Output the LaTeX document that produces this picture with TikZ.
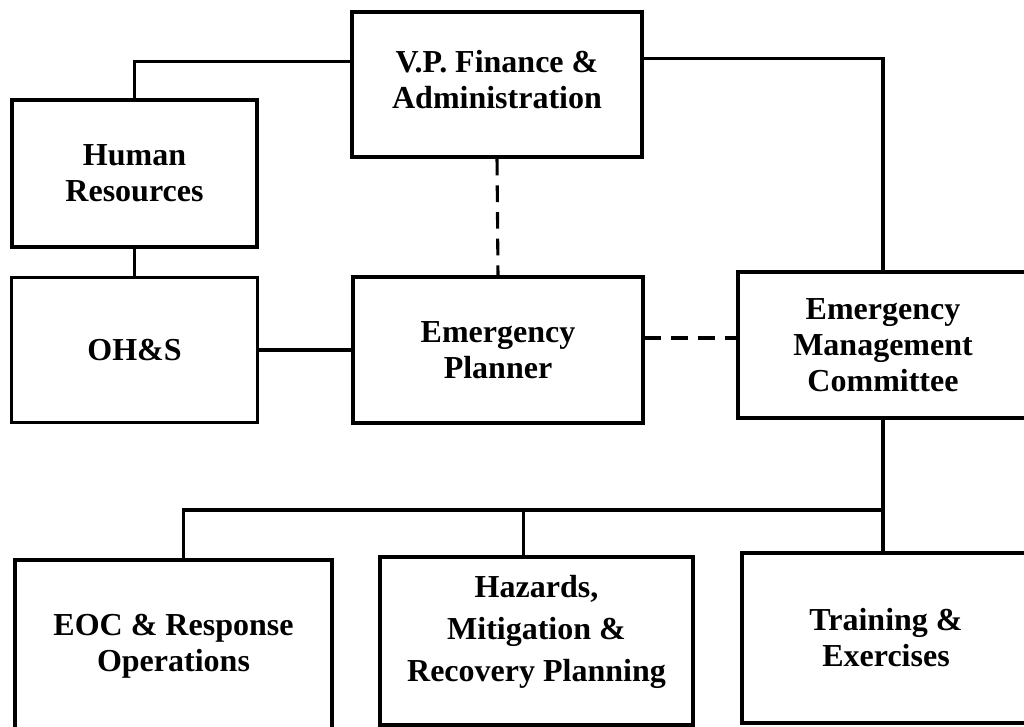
\documentclass[tikz,border=0pt]{standalone}
\usepackage{fontspec}
\setmainfont{Liberation Serif}
\usetikzlibrary{calc}
\tikzset{
  orgbox/.style={draw=black, line width=2.6pt, rectangle, align=center,
    font=\fontsize{24}{27}\selectfont\bfseries, inner sep=0pt},
  link/.style={draw=black, line width=2.3pt},
  dashlink/.style={draw=black, line width=2.3pt, dash pattern=on 12.5pt off 7.5pt}
}
\begin{document}
\begin{tikzpicture}[x=0.75pt,y=-0.75pt]
\useasboundingbox (0,0) rectangle (1024,727);
\clip (0,0) rectangle (1024,727);
\fill[white] (0,0) rectangle (1024,727);

\node[orgbox, minimum width=290*0.75pt, minimum height=145*0.75pt] (VP) at (497,84.5) {V.P. Finance \&\\Administration\\[-20pt]};
\node[orgbox, minimum width=245*0.75pt, minimum height=147*0.75pt] (HR) at (134.5,173.5) {Human\\Resources};
\node[orgbox, minimum width=246*0.75pt, minimum height=145*0.75pt] (OHS) at (134.5,350) {OH\&S};
\node[orgbox, minimum width=290*0.75pt, minimum height=146*0.75pt] (EP) at (498,350) {Emergency\\Planner};
\node[orgbox, minimum width=290*0.75pt, minimum height=146*0.75pt] (EMC) at (883,345) {Emergency\\Management\\Committee};
\node[orgbox, minimum width=317*0.75pt, minimum height=172*0.75pt] (EOC) at (173.5,646) {EOC \& Response\\Operations};
\node[orgbox, minimum width=313*0.75pt, minimum height=168*0.75pt,
      font=\fontsize{24}{31.5}\selectfont\bfseries] (HZ) at (536.5,641) {Hazards,\\Mitigation \&\\Recovery Planning\\[-12pt]};
\node[orgbox, minimum width=288*0.75pt, minimum height=170*0.75pt] (TR) at (886,638) {Training \&\\Exercises};

\coordinate (busR) at (883,510);

\draw[link] ($(VP.north west)+(0,51)$) -| (HR.north);
\draw[link] ($(VP.north east)+(0,48)$) -| (EMC.north);
\draw[dashlink] (VP.south) -- (EP.north);
\draw[link] (HR.south) -- (OHS.north);
\draw[link] (OHS.east) -- (EP.west);
\draw[dashlink] ($(EP.east)+(0,-12)$) coordinate (d1) -- (d1 -| EMC.west);
\draw[link] (EMC.south) -- (EMC.south |- TR.north);
\draw[link] ($(EOC.north west)+(170,0)$) coordinate (eocTop) |- (busR);
\draw[link] ($(HZ.north west)+(145,0)$) coordinate (hzTop) -- (hzTop |- busR);
\end{tikzpicture}
\end{document}
